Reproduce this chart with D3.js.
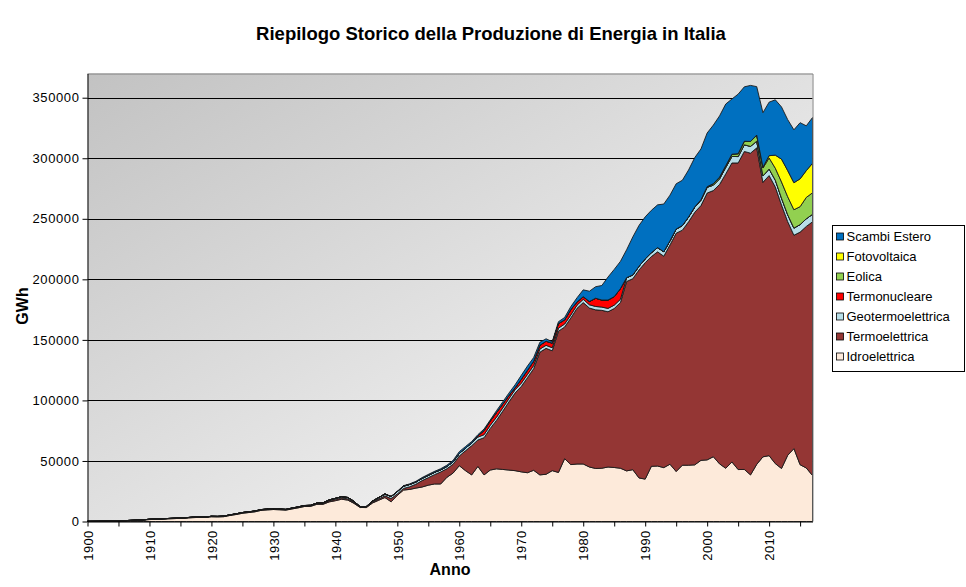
<!DOCTYPE html>
<html>
<head>
<meta charset="utf-8">
<script src="https://cdn.jsdelivr.net/npm/d3@7"></script>
<style>
  body { margin: 0; background: #fff; }
  svg { font-family: "Liberation Sans", Arial, sans-serif; }
</style>
</head>
<body>
<svg class="areasvg" width="966" height="587"></svg>
<script>
// anni 1900-2017, valori in GWh
var anni = d3.range(1900, 2018);

var idroelettrica = [
  100,150,200,280,350,450,600,800,1000,1200,
  1600,1800,2000,2200,2400,2600,2900,3200,3400,3400,
  3900,3800,4000,5000,5800,6800,7400,8000,9200,9600,
  9900,9700,9400,10400,11300,12400,12500,14200,14200,16200,
  17200,18400,17700,15000,11600,11500,15300,17600,19800,16300,
  21600,26000,26500,27600,28500,30000,31000,31000,36500,40000,
  46100,42000,38500,45500,38500,42500,43500,43000,42500,42000,
  41000,40300,42300,38500,39000,42000,40500,51900,47000,47500,
  47500,45000,43800,44000,45000,44600,44000,41800,42800,36000,
  35000,45600,45800,44500,47300,41300,46500,46500,46800,50500,
  50900,53500,47600,44000,49200,42900,43000,38500,47200,53400,
  54400,47800,43800,54700,60200,46900,44200,38000
];

var termoelettrica = [
  50,50,70,70,80,100,120,150,180,200,
  250,250,260,280,300,300,300,350,350,300,
  350,350,400,400,450,500,500,500,500,500,
  500,400,400,450,500,500,500,600,700,900,
  1000,1100,1000,800,500,700,800,1000,1400,2600,
  1200,1300,2200,3200,5300,6200,7700,9900,7100,7300,
  8000,16400,24100,21800,30700,34400,40000,48000,56200,64100,
  70500,78500,83900,101300,104000,99000,116700,108700,121100,128600,
  133300,131300,131000,130400,128200,131300,136700,156400,157700,171700,
  178700,173200,176900,174600,181100,196800,194100,201000,208600,210400,
  220400,219800,230700,243100,246900,253200,262600,265700,261400,226700,
  231300,228400,217600,192900,176200,192100,199500,209500
];

var geotermoelettrica = [
  0,0,0,0,0,0,0,0,0,0,
  0,0,0,0,0,0,10,20,30,40,
  50,60,70,80,90,100,110,120,130,140,
  150,180,200,220,250,300,350,400,500,700,
  900,1000,1100,900,100,200,800,1200,1500,1700,
  1900,1900,1900,1800,1800,1900,1900,1800,1900,2000,
  2100,2200,2300,2400,2500,2600,2600,2700,2700,2700,
  2700,2700,2600,2600,2500,2500,2500,2500,2500,2600,
  2700,2700,2800,2700,2800,2800,2800,3000,3100,3100,
  3200,3200,3500,3700,3400,3400,3800,3900,4200,4400,
  4700,4500,4700,5300,5400,5300,5500,5600,5500,5300,
  5400,5700,5600,5700,5900,6200,6300,6200
];

var termonucleare = [
  0,0,0,0,0,0,0,0,0,0,
  0,0,0,0,0,0,0,0,0,0,
  0,0,0,0,0,0,0,0,0,0,
  0,0,0,0,0,0,0,0,0,0,
  0,0,0,0,0,0,0,0,0,0,
  0,0,0,0,0,0,0,0,0,0,
  0,0,0,1000,3500,3500,3900,3200,2600,1600,
  3200,3400,3600,3100,3400,3800,3800,3400,4400,2600,
  2200,2700,6800,5800,6900,7000,8800,200,0,0,
  0,0,0,0,0,0,0,0,0,0,
  0,0,0,0,0,0,0,0,0,0,
  0,0,0,0,0,0,0,0
];

var eolica = [
  0,0,0,0,0,0,0,0,0,0,
  0,0,0,0,0,0,0,0,0,0,
  0,0,0,0,0,0,0,0,0,0,
  0,0,0,0,0,0,0,0,0,0,
  0,0,0,0,0,0,0,0,0,0,
  0,0,0,0,0,0,0,0,0,0,
  0,0,0,0,0,0,0,0,0,0,
  0,0,0,0,0,0,0,0,0,0,
  0,0,0,0,0,0,0,0,0,0,
  0,0,0,0,0,10,30,120,230,400,
  560,1180,1400,1460,1850,2340,2970,4030,4860,6540,
  9130,9860,13410,14900,15180,14840,17690,17740
];

var fotovoltaica = [
  0,0,0,0,0,0,0,0,0,0,
  0,0,0,0,0,0,0,0,0,0,
  0,0,0,0,0,0,0,0,0,0,
  0,0,0,0,0,0,0,0,0,0,
  0,0,0,0,0,0,0,0,0,0,
  0,0,0,0,0,0,0,0,0,0,
  0,0,0,0,0,0,0,0,0,0,
  0,0,0,0,0,0,0,0,0,0,
  0,0,0,0,0,0,0,0,0,0,
  0,0,0,0,0,0,0,0,0,0,
  0,0,0,0,0,0,0,40,190,680,
  1910,10800,18860,21590,22310,22940,22100,24380
];

var scambiEstero = [
  0,0,0,0,0,0,0,0,0,0,
  0,0,0,0,0,0,0,0,0,0,
  0,0,0,0,0,0,0,0,0,0,
  0,0,0,0,0,0,0,0,0,0,
  0,0,0,0,0,0,0,0,0,0,
  300,400,500,600,700,800,800,900,1000,1200,
  1500,1300,1200,1000,1200,900,1500,1800,2000,2500,
  3300,3500,3000,2500,2000,1200,1500,2000,2500,3500,
  5600,8500,9500,12000,19000,22500,22500,23000,31400,33700,
  34700,35000,35300,39400,37700,37400,37400,38800,40700,42000,
  44300,48400,50600,50900,45600,49200,44900,46300,40000,45000,
  44200,45700,43100,42100,43700,46400,37000,37800
];

var serie = ["Idroelettrica", "Termoelettrica", "Geotermoelettrica", "Termonucleare",
             "Eolica", "Fotovoltaica", "Scambi Estero"];
var valori = [idroelettrica, termoelettrica, geotermoelettrica, termonucleare,
              eolica, fotovoltaica, scambiEstero];
var colori = ["#fdeada", "#943634", "#b7dee8", "#ff0000", "#92d050", "#ffff00", "#0070c0"];
var yTicks = [0, 50000, 100000, 150000, 200000, 250000, 300000, 350000];

var table = anni.map(function(a, i) {
    var row = { anno: a };
    serie.forEach(function(s, k) { row[s] = valori[k][i]; });
    return row;
});

var svg = d3.select(".areasvg"),
    plotLeft = 87.5, plotRight = 812.5, plotTop = 73.5, plotBottom = 521.5;

var xScale = d3.scaleLinear().domain([1900, 2017]).range([plotLeft, plotRight]);
var yScale = d3.scaleLinear().domain([0, 370000]).range([plotBottom, plotTop]);

// sfondo sfumato
var defs = svg.append("defs");
var grad = defs.append("linearGradient").attr("id", "bg")
    .attr("x1", 0).attr("y1", 0).attr("x2", 1).attr("y2", 1);
grad.append("stop").attr("offset", "0%").attr("stop-color", "#c2c2c2");
grad.append("stop").attr("offset", "100%").attr("stop-color", "#ffffff");

svg.append("rect")
    .attr("x", plotLeft).attr("y", plotTop)
    .attr("width", plotRight - plotLeft).attr("height", plotBottom - plotTop)
    .attr("fill", "url(#bg)");

// griglia
svg.append("g").selectAll("line")
    .data(yTicks.slice(1))
    .enter().append("line")
    .attr("x1", plotLeft).attr("x2", plotRight)
    .attr("y1", function(d) { return Math.round(yScale(d)) + 0.5; })
    .attr("y2", function(d) { return Math.round(yScale(d)) + 0.5; })
    .attr("stroke", "#000").attr("stroke-width", 1);

// aree impilate
var stack = d3.stack().keys(serie);
var layers = stack(table);

var area = d3.area()
    .x(function(d) { return xScale(d.data.anno); })
    .y0(function(d) { return yScale(d[0]); })
    .y1(function(d) { return yScale(d[1]); });

svg.append("g").selectAll("path")
    .data(layers)
    .enter().append("path")
    .attr("d", area)
    .attr("fill", function(d, i) { return colori[i]; })
    .attr("stroke", "#1a1a1a")
    .attr("stroke-width", 0.9)
    .attr("stroke-linejoin", "round");

// bordo area del grafico
svg.append("path")
    .attr("d", "M" + plotLeft + "," + (plotTop + 0.5) + "H" + (plotRight + 0.5) + "V" + plotBottom)
    .attr("fill", "none").attr("stroke", "#808080");

// asse y
var yAxis = svg.append("g")
    .attr("transform", "translate(" + plotLeft + ",0)")
    .call(d3.axisLeft(yScale).tickValues(yTicks).tickSize(5).tickSizeOuter(0).tickPadding(3)
        .tickFormat(function(d) { return d; }));
yAxis.select(".domain").attr("stroke", "#000");
yAxis.selectAll("text").attr("font-size", "13px").attr("fill", "#000")
    .attr("font-family", "Liberation Sans, Arial, sans-serif")
    .attr("letter-spacing", "0.6px");

// asse x
var xAxis = svg.append("g")
    .attr("transform", "translate(0," + plotBottom + ")")
    .call(d3.axisBottom(xScale).tickValues(d3.range(1900, 2017, 5)).tickSize(5)
        .tickSizeOuter(0).tickFormat(function(d) { return d % 10 === 0 ? d : ""; }));
xAxis.select(".domain").attr("stroke", "#000");
xAxis.selectAll("text")
    .attr("font-size", "13px").attr("fill", "#000")
    .attr("font-family", "Liberation Sans, Arial, sans-serif")
    .attr("letter-spacing", "0.3px")
    .attr("text-anchor", "end")
    .attr("transform", "rotate(-90)")
    .attr("x", -9).attr("y", 0).attr("dy", "0.36em");

// titoli
svg.append("text")
    .attr("x", 491).attr("y", 40)
    .attr("text-anchor", "middle")
    .attr("font-size", "18.5px").attr("font-weight", "bold")
    .text("Riepilogo Storico della Produzione di Energia in Italia");

svg.append("text")
    .attr("x", 450).attr("y", 575)
    .attr("text-anchor", "middle")
    .attr("font-size", "16px").attr("font-weight", "bold")
    .text("Anno");

svg.append("text")
    .attr("transform", "translate(28,306) rotate(-90)")
    .attr("text-anchor", "middle")
    .attr("font-size", "16px").attr("font-weight", "bold")
    .text("GWh");

// legenda
var legend = svg.append("g").attr("transform", "translate(832.5,225.5)");
legend.append("rect")
    .attr("width", 132).attr("height", 146)
    .attr("fill", "#fff").attr("stroke", "#000");

var voci = serie.slice().reverse();
var coloriVoci = colori.slice().reverse();

var item = legend.selectAll(".voce")
    .data(voci)
    .enter().append("g")
    .attr("class", "voce")
    .attr("transform", function(d, i) { return "translate(0," + (11 + i * 20) + ")"; });

item.append("rect")
    .attr("x", 4).attr("y", -3.5)
    .attr("width", 7).attr("height", 7)
    .attr("fill", function(d, i) { return coloriVoci[i]; })
    .attr("stroke", "#000").attr("stroke-width", 0.8);

item.append("text")
    .attr("x", 14).attr("y", 0).attr("dy", "0.36em")
    .attr("font-size", "13px")
    .text(function(d) { return d; });
</script>
</body>
</html>
